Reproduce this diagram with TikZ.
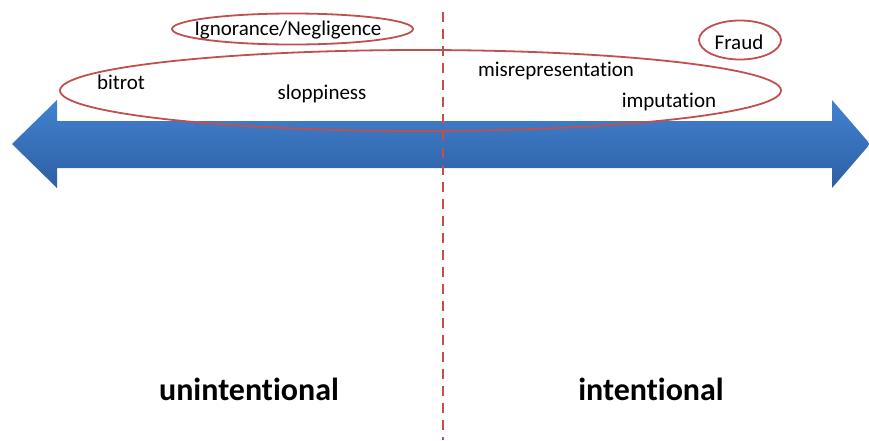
\documentclass[tikz,border=0pt]{standalone}
\usepackage{fontspec}
\setmainfont{Carlito}[Ligatures={NoCommon}]
\usetikzlibrary{shapes.geometric}
\definecolor{ovalred}{HTML}{C0504D}
\definecolor{axistop}{HTML}{4282D0}
\definecolor{axisbot}{HTML}{2E5FA3}
\tikzset{
  oval/.style={ellipse, draw=ovalred, line width=1.8pt, inner sep=0pt},
  word/.style={font=\fontsize{21}{25}\selectfont, text=black, inner sep=0pt},
  side/.style={font=\fontsize{32}{38}\selectfont\bfseries, text=black, inner sep=0pt},
  divider/.style={draw=ovalred, line width=2.5pt, dash pattern=on 10pt off 7pt}
}
\begin{document}
\begin{tikzpicture}[x=1pt, y=-1pt]
  \useasboundingbox (0,0) rectangle (869,440);
  % double-headed axis
  \shade[top color=axistop, bottom color=axisbot]
    (12,144) -- (57,100) -- (57,121) -- (832,121) -- (832,100) -- (870,144)
    -- (832,188) -- (832,168) -- (57,168) -- (57,188) -- cycle;
  % dividing line between the two halves
  \coordinate (divtop) at (443,12);
  \coordinate (divbot) at (443,440);
  \draw[divider] (divtop) -- (divbot);
  % grouping ovals
  \node[oval, minimum width=721pt, minimum height=81pt] (spectrum) at (420.5,90.5) {};
  \node[oval, minimum width=241pt, minimum height=31pt] (ignorance) at (292.5,29) {};
  \node[oval, minimum width=82pt, minimum height=39pt] (fraud) at (740,40) {};
  % labels
  \node[word] (ignlabel) at (288,30) {Ignorance/Negligence};
  \node[word] (fraudlabel) at (739,42) {Fraud};
  \node[word] (bitrot) at (121,82) {bitrot};
  \node[word] (sloppiness) at (322,94) {sloppiness};
  \node[word] (misrep) at (556,71) {misrepresentation};
  \node[word] (imputation) at (669,102) {imputation};
  \node[side] (unint) at (249,389) {unintentional};
  \node[side] (intent) at (651,389) {intentional};
\end{tikzpicture}
\end{document}
